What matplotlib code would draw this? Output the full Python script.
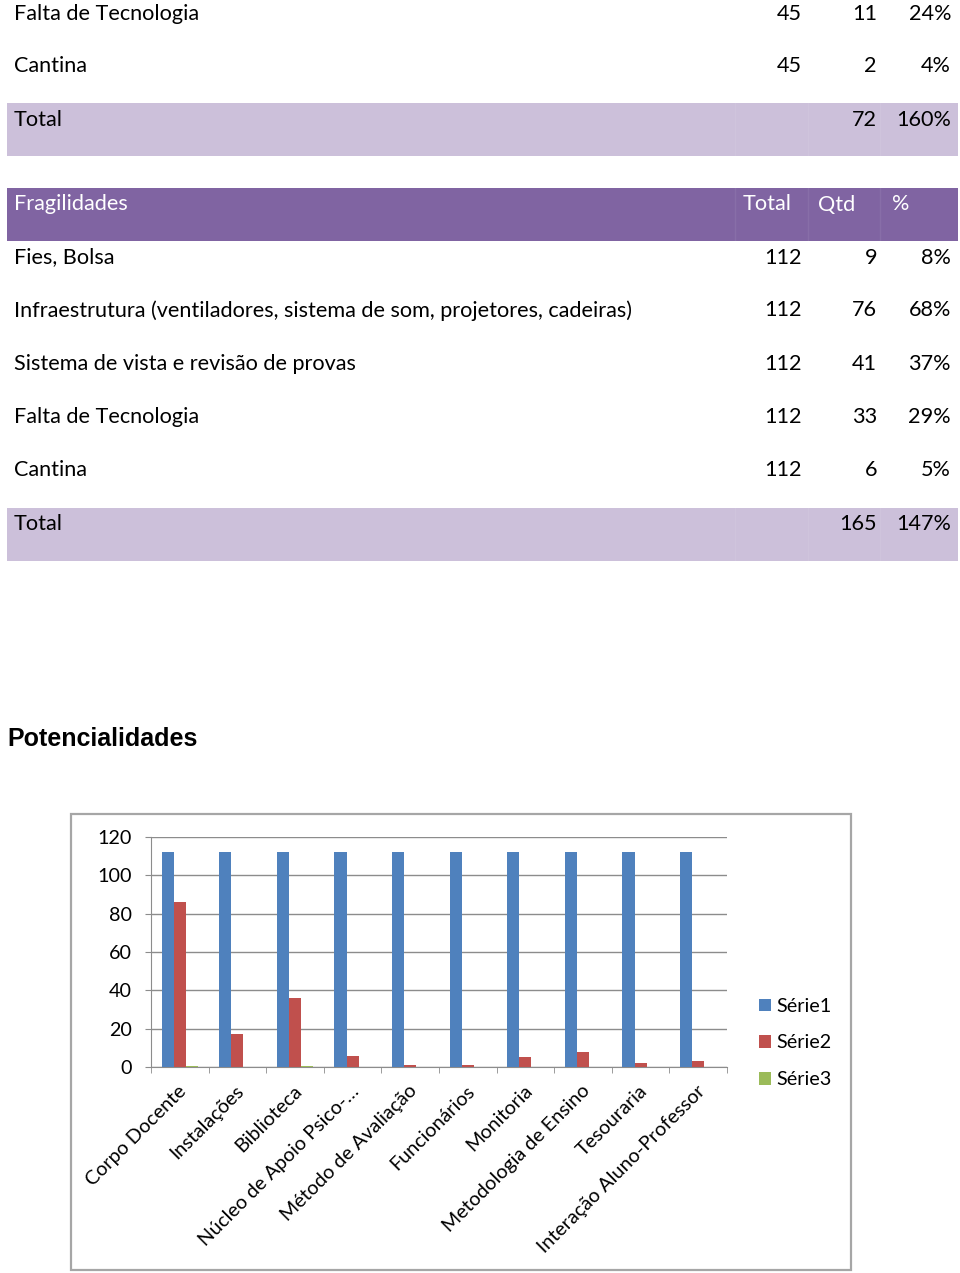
import matplotlib
matplotlib.use("Agg")
import matplotlib.pyplot as plt
from matplotlib.patches import Rectangle
from matplotlib.transforms import ScaledTranslation
import numpy as np

# ---------------- data ----------------
t1_labels = ["Falta de Tecnologia", "Cantina"]
t1_total = [45, 45]
t1_qtd = [11, 2]
t1_pct = ["24%", "4%"]
t1_sum_qtd = 72
t1_sum_pct = "160%"

t2_header = ["Fragilidades", "Total", "Qtd", "%"]
t2_labels = ["Fies, Bolsa",
             "Infraestrutura (ventiladores, sistema de som, projetores, cadeiras)",
             "Sistema de vista e revisão de provas",
             "Falta de Tecnologia",
             "Cantina"]
t2_total = [112, 112, 112, 112, 112]
t2_qtd = [9, 76, 41, 33, 6]
t2_pct = ["8%", "68%", "37%", "29%", "5%"]
t2_sum_qtd = 165
t2_sum_pct = "147%"

chart_title = "Potencialidades"
categories = ["Corpo Docente", "Instalações", "Biblioteca", "Núcleo de Apoio Psico-…",
              "Método de Avaliação", "Funcionários", "Monitoria",
              "Metodologia de Ensino", "Tesouraria", "Interação Aluno-Professor"]
serie1 = [112, 112, 112, 112, 112, 112, 112, 112, 112, 112]
serie2 = [86, 17, 36, 6, 1, 1, 5, 8, 2, 3]
serie3 = [0.77, 0.15, 0.32, 0.05, 0.01, 0.01, 0.04, 0.07, 0.02, 0.03]
series_names = ["Série1", "Série2", "Série3"]
yticks = [0, 20, 40, 60, 80, 100, 120]

# ---------------- layout ----------------
W, H = 960, 1273
fig = plt.figure(figsize=(W / 100, H / 100), dpi=100)
FAM = ["Lato", "DejaVu Sans"]
FS = 15.6
FSC = 14.2
DY = 1.5


def fx(x):
    return x / W


def fy(y):
    return 1 - y / H


def band(y0, y1, color):
    fig.patches.append(Rectangle((fx(7), fy(y1)), fx(958) - fx(7), (y1 - y0) / H,
                                 transform=fig.transFigure, facecolor=color,
                                 edgecolor="none", zorder=-5))
    for xv in (735, 808, 880):
        fig.add_artist(plt.Line2D([fx(xv), fx(xv)], [fy(y1), fy(y0)],
                                  transform=fig.transFigure, color="white",
                                  alpha=0.07, lw=1, zorder=-4))


def txt(x, y, s, ha="left", color="black", **kw):
    fig.text(fx(x), fy(y + DY), s, ha=ha, va="center", color=color,
             family=FAM, fontsize=FS, **kw)


COLX = (802, 877, 951)

# table 1 (tail)
band(103, 156, "#CCC0DA")
row_y = [12, 65]
for i, lab in enumerate(t1_labels):
    txt(14, row_y[i], lab)
    txt(COLX[0], row_y[i], str(t1_total[i]), ha="right")
    txt(COLX[1], row_y[i], str(t1_qtd[i]), ha="right")
    txt(COLX[2], row_y[i], t1_pct[i], ha="right")
txt(14, 118, "Total")
txt(COLX[1], 118, str(t1_sum_qtd), ha="right")
txt(COLX[2], 118, t1_sum_pct, ha="right")

# table 2
band(188, 241, "#8064A2")
txt(14, 203, t2_header[0], color="white")
txt(743, 203, t2_header[1], color="white")
txt(818, 203, t2_header[2], color="white")
txt(892, 203, t2_header[3], color="white")
row_y2 = [256, 309, 362, 416, 469]
for i, lab in enumerate(t2_labels):
    txt(14, row_y2[i], lab)
    txt(COLX[0], row_y2[i], str(t2_total[i]), ha="right")
    txt(COLX[1], row_y2[i], str(t2_qtd[i]), ha="right")
    txt(COLX[2], row_y2[i], t2_pct[i], ha="right")
band(508, 561, "#CCC0DA")
txt(14, 523, "Total")
txt(COLX[1], 523, str(t2_sum_qtd), ha="right")
txt(COLX[2], 523, t2_sum_pct, ha="right")

# heading
fig.text(fx(7), fy(739), chart_title, ha="left", va="center",
         family=["Liberation Sans", "DejaVu Sans"], fontweight="bold", fontsize=18)

# chart frame
fig.patches.append(Rectangle((fx(71), fy(1270)), fx(851) - fx(71), (1270 - 814) / H,
                             transform=fig.transFigure, facecolor="none",
                             edgecolor="#A6A6A6", lw=1.6, zorder=-5))

ax = fig.add_axes([fx(151), fy(1067), (727 - 151) / W, (1067 - 837) / H])
x = np.arange(len(categories))
bw = 0.21
colors = ["#4F81BD", "#C0504D", "#9BBB59"]
for k, vals in enumerate([serie1, serie2, serie3]):
    ax.bar(x + (k - 1) * bw, vals, bw, color=colors[k], label=series_names[k], zorder=3)

ax.set_xlim(-0.5, len(categories) - 0.5)
ax.set_ylim(0, 120)
ax.set_yticks(yticks)
ax.yaxis.grid(True, color="#8C8C8C", lw=1)
ax.set_axisbelow(True)
ax.set_facecolor("none")
for s in ("top", "right"):
    ax.spines[s].set_visible(False)
for s in ("left", "bottom"):
    ax.spines[s].set_color("#8C8C8C")
ax.tick_params(axis="y", length=4.3, color="#8C8C8C", pad=9.4, labelsize=FSC)
for lab in ax.get_yticklabels():
    lab.set_family(FAM)

ax.set_xticks(x)
ax.set_xticks(np.arange(-0.5, len(categories), 1.0), minor=True)
ax.tick_params(axis="x", which="major", length=0, pad=11)
ax.tick_params(axis="x", which="minor", length=4.3, color="#8C8C8C")
ax.set_xticklabels(categories, rotation=45, ha="right", va="top",
                   rotation_mode="anchor", family=FAM, fontsize=FSC)
off = ScaledTranslation(-2 / 100, 0, fig.dpi_scale_trans)
for lab in ax.get_xticklabels():
    lab.set_transform(lab.get_transform() + off)

leg = ax.legend(loc="center left", bbox_to_anchor=(fx(759), fy(1043)),
                bbox_transform=fig.transFigure, frameon=False,
                prop={"family": FAM, "size": FSC},
                handlelength=0.6, handleheight=0.6, handletextpad=0.3,
                labelspacing=1.0, borderpad=0, borderaxespad=0)

fig.savefig("out.png", dpi=100, facecolor="white")
